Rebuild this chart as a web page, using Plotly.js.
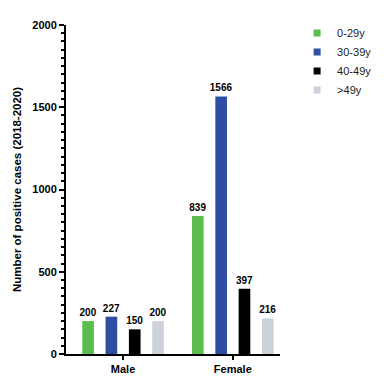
<!DOCTYPE html>
<html><head><meta charset="utf-8">
<script src="https://cdn.plot.ly/plotly-3.0.1.min.js"></script>
<style>html,body{margin:0;padding:0;background:#fff}#chart{width:389px;height:377px}</style>
</head><body><div id="chart"></div>
<script>
const categories = ["Male", "Female"];
const ageGroups = ["0-29y", "30-39y", "40-49y", ">49y"];
const values_0_29 = [200, 839];
const values_30_39 = [227, 1566];
const values_40_49 = [150, 397];
const values_49plus = [200, 216];
const colors = ["#5cbd4f", "#2e4ea3", "#000000", "#cdd1d9"];
const seriesValues = [values_0_29, values_30_39, values_40_49, values_49plus];

const traces = [];
seriesValues.forEach((vals, i) => {
  traces.push({
    type: 'bar', x: categories, y: vals, name: ageGroups[i],
    marker: {color: colors[i]}, showlegend: false,
    text: vals.map(String), textposition: 'outside', cliponaxis: false,
    constraintext: 'none',
    textfont: {family: 'Liberation Sans, Arial', size: 10, color: '#000', weight: 'bold'},
    hoverinfo: 'skip'
  });
});
ageGroups.forEach((g, i) => {
  traces.push({
    type: 'scatter', mode: 'markers', x: [null], y: [null], name: g,
    marker: {symbol: 'square', size: 7, color: colors[i]}, showlegend: true
  });
});

const layout = {
  width: 389, height: 377,
  margin: {l: 66, r: 102, t: 25, b: 23},
  paper_bgcolor: '#fff', plot_bgcolor: '#fff',
  barmode: 'group', bargap: 0.15, bargroupgap: 0.5,
  font: {family: 'Liberation Sans, Arial', color: '#000'},
  showlegend: true,
  legend: {x: 1.08, y: 1.02, xanchor: 'left', yanchor: 'top',
    font: {size: 11, color: '#222'}, itemwidth: 30, tracegroupgap: 0},
  xaxis: {
    type: 'category', range: [-0.52, 1.43],
    showline: true, linecolor: '#000', linewidth: 2,
    ticks: 'outside', ticklen: 4, tickwidth: 2, tickcolor: '#000',
    tickfont: {size: 11, weight: 'bold'}, showgrid: false, zeroline: false
  },
  yaxis: {
    range: [0, 2000], dtick: 500, tick0: 0,
    showline: true, linecolor: '#000', linewidth: 2,
    ticks: 'outside', ticklen: 5, tickwidth: 2, tickcolor: '#000',
    minor: {dtick: 50, ticks: 'outside', ticklen: 3, tickwidth: 2, tickcolor: '#000', showgrid: false},
    tickfont: {size: 11, weight: 'bold'}, showgrid: false, zeroline: false,
    title: {text: 'Number of positive cases (2018-2020)', font: {size: 11.5, weight: 'bold'}, standoff: 8}
  }
};
Plotly.newPlot('chart', traces, layout, {staticPlot: true});
</script></body></html>
